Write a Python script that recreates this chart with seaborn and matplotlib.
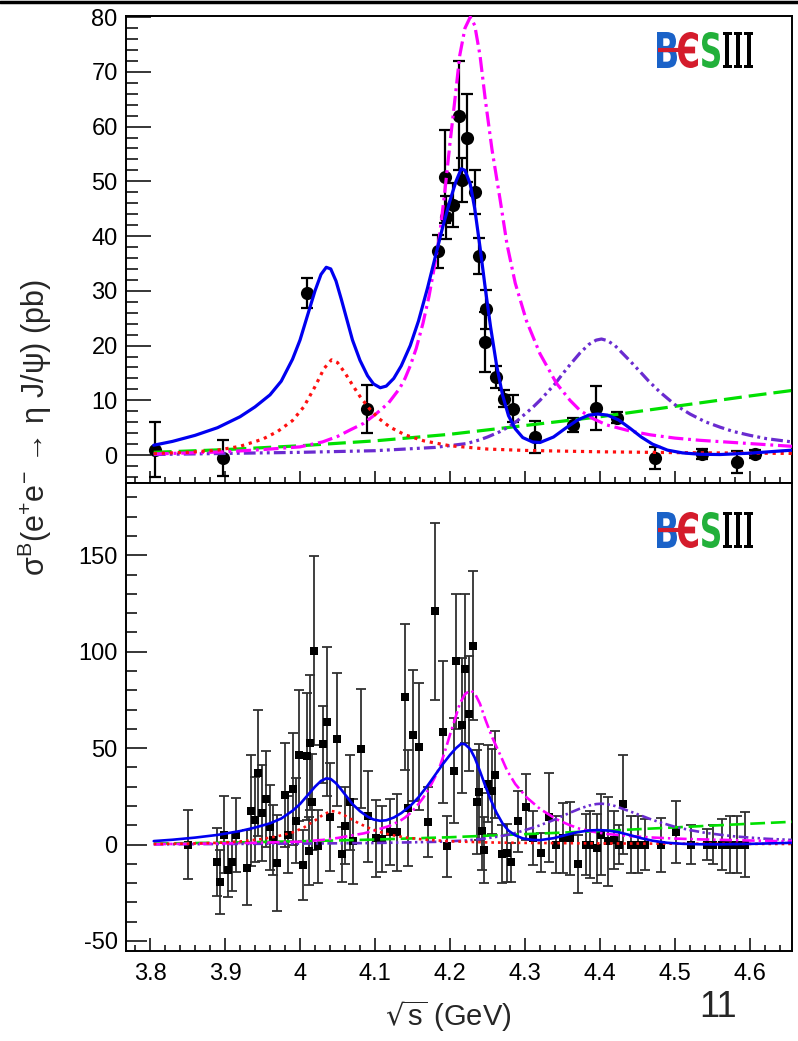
import matplotlib
matplotlib.use("Agg")
import matplotlib.pyplot as plt
import seaborn as sns
from matplotlib.ticker import MultipleLocator, FixedLocator
from matplotlib.textpath import TextPath
from matplotlib.font_manager import FontProperties
from matplotlib.patches import PathPatch
from matplotlib.transforms import Affine2D
from matplotlib.lines import Line2D

# --- top panel data: e+e- -> eta J/psi (pb) ---
top_x = [3.807, 3.897, 4.009, 4.089, 4.184, 4.193, 4.195, 4.204, 4.212, 4.216,
         4.222, 4.233, 4.239, 4.247, 4.248, 4.262, 4.272, 4.284, 4.313, 4.364,
         4.395, 4.422, 4.473, 4.536, 4.582, 4.607]
top_y = [1.0, -0.5, 29.6, 8.4, 37.2, 50.8, 43.4, 45.7, 62.0, 50.3,
         57.9, 48.1, 36.3, 20.7, 26.6, 14.2, 10.3, 8.5, 3.3, 5.5,
         8.6, 6.8, -0.5, 0.2, -1.3, 0.2]
top_err = [5.0, 3.3, 2.8, 4.4, 3.0, 8.5, 4.0, 4.0, 10.0, 4.0,
           8.0, 4.0, 3.3, 5.5, 3.5, 2.0, 1.5, 2.5, 3.0, 1.2,
           4.1, 1.0, 2.0, 1.0, 2.0, 0.8]

# --- bottom panel data ---
bot_x = [3.850, 3.889, 3.893, 3.899, 3.904, 3.909, 3.915, 3.929, 3.935, 3.940,
         3.944, 3.949, 3.954, 3.960, 3.964, 3.969, 3.980, 3.984, 3.990, 3.994,
         3.999, 4.004, 4.009, 4.012, 4.013, 4.016, 4.019, 4.024, 4.030, 4.036,
         4.040, 4.049, 4.056, 4.060, 4.067, 4.070, 4.081, 4.091, 4.101, 4.109,
         4.120, 4.129, 4.140, 4.144, 4.150, 4.159, 4.170, 4.180, 4.190, 4.196,
         4.205, 4.208, 4.216, 4.220, 4.225, 4.230, 4.236, 4.239, 4.243, 4.245,
         4.251, 4.256, 4.260, 4.270, 4.276, 4.281, 4.291, 4.301, 4.311, 4.321,
         4.332, 4.341, 4.351, 4.360, 4.371, 4.381, 4.387, 4.396, 4.401, 4.411,
         4.419, 4.425, 4.431, 4.441, 4.450, 4.460, 4.481, 4.501, 4.521, 4.542,
         4.551, 4.562, 4.573, 4.583, 4.593]
bot_y = [0.0, -8.9, -19.3, 5.0, -13.2, -8.9, 5.0, -12.0, 17.5, 12.8,
         37.0, 16.3, 23.6, 8.9, 2.4, -9.7, 25.5, 5.0, 28.8, 12.3,
         46.2, -10.6, 45.8, -3.3, 52.8, 22.0, 100.5, -1.0, 51.9, 63.7,
         14.1, 54.5, -5.0, 9.7, 21.9, 1.6, 49.8, 14.6, 3.3, 3.0,
         6.4, 6.4, 76.6, 18.9, 56.6, 50.7, 11.6, 121.0, 58.5, -1.0,
         38.4, 95.0, 61.8, 91.3, 67.9, 103.1, 22.0, 27.3, 6.8, -2.8,
         31.6, 27.6, 36.3, -5.0, -4.5, -9.2, 12.0, 19.5, 3.3, -4.2,
         14.1, 0.0, 3.3, 3.3, -10.0, 0.0, 0.0, -2.0, 5.0, 1.6,
         2.3, 0.0, 21.0, 0.0, 0.0, 0.0, 0.0, 6.4, 0.0, 0.0,
         0.0, 0.0, 0.0, 0.0, 0.0]
bot_err = [18.0, 17.7, 16.5, 20.0, 13.9, 15.0, 19.0, 19.5, 28.8, 22.0,
           32.6, 25.0, 25.0, 22.0, 18.0, 25.0, 27.0, 20.0, 28.8, 22.0,
           33.9, 18.2, 33.0, 17.7, 35.0, 25.0, 49.0, 19.0, 20.0, 38.5,
           28.0, 34.7, 14.2, 20.0, 24.8, 22.0, 30.7, 23.8, 20.0, 17.0,
           17.0, 20.0, 37.8, 30.0, 34.0, 33.0, 18.0, 46.0, 36.8, 15.6,
           27.4, 35.0, 35.0, 38.7, 30.0, 38.7, 27.0, 25.0, 20.0, 17.0,
           20.0, 22.0, 22.6, 15.0, 15.0, 10.0, 16.0, 17.0, 14.0, 10.2,
           23.0, 15.0, 18.0, 19.0, 15.0, 16.0, 17.5, 17.7, 21.0, 23.0,
           15.0, 10.0, 25.7, 15.0, 15.0, 13.0, 14.0, 16.0, 10.0, 8.0,
           10.0, 13.0, 15.0, 15.0, 17.0]

# --- fit curves ---
total_x = [3.805, 3.83, 3.86, 3.89, 3.92, 3.94, 3.96, 3.975, 3.99, 4.0,
           4.01, 4.02, 4.028, 4.035, 4.041, 4.048, 4.055, 4.062, 4.07, 4.08,
           4.09, 4.098, 4.107, 4.115, 4.125, 4.135, 4.147, 4.158, 4.17, 4.18,
           4.19, 4.2, 4.208, 4.215, 4.22, 4.227, 4.233, 4.24, 4.247, 4.254,
           4.262, 4.27, 4.278, 4.287, 4.297, 4.31, 4.32, 4.338, 4.355, 4.37,
           4.385, 4.397, 4.41, 4.425, 4.44, 4.455, 4.47, 4.49, 4.51, 4.533,
           4.56, 4.6, 4.656]
total_y = [1.8, 2.5, 3.6, 5.0, 7.0, 8.8, 11.0, 13.5, 17.5, 21.0,
           25.5, 30.0, 33.0, 34.3, 34.0, 31.8, 28.5, 25.0, 21.0, 17.3,
           14.5, 13.0, 12.3, 12.6, 14.0, 16.3, 20.0, 24.5, 30.5, 36.0,
           41.5, 46.5, 50.0, 52.3, 52.0, 49.5, 45.0, 38.0, 30.5, 23.5,
           16.5, 11.0, 7.2, 4.8, 3.2, 2.4, 2.3, 3.3, 5.0, 6.4,
           7.3, 7.5, 7.3, 6.4, 4.9, 3.3, 2.0, 0.9, 0.4, 0.15,
           0.1, 0.35, 0.9]

r1_x = [3.805, 3.85, 3.89, 3.92, 3.95, 3.97, 3.99, 4.005, 4.02, 4.032,
        4.042, 4.05, 4.06, 4.07, 4.08, 4.093, 4.105, 4.12, 4.14, 4.165,
        4.2, 4.25, 4.3, 4.4, 4.5, 4.656]
r1_y = [0.3, 0.5, 0.9, 1.6, 2.9, 4.3, 6.3, 8.8, 12.5, 15.8,
        17.4, 16.9, 15.0, 12.8, 10.7, 8.4, 6.7, 5.1, 3.7, 2.6,
        1.7, 1.1, 0.85, 0.6, 0.45, 0.3]

r2_x = [3.805, 3.9, 3.95, 4.0, 4.03, 4.05, 4.067, 4.085, 4.102, 4.118,
        4.133, 4.14, 4.147, 4.155, 4.164, 4.172, 4.18, 4.186, 4.193, 4.2,
        4.207, 4.213, 4.22, 4.227, 4.233, 4.24, 4.247, 4.256, 4.267, 4.276,
        4.287, 4.302, 4.32, 4.342, 4.36, 4.373, 4.39, 4.409, 4.44, 4.467,
        4.5, 4.533, 4.6, 4.656]
r2_y = [0.2, 0.6, 1.0, 1.5, 2.4, 3.4, 4.6, 5.8, 7.6, 9.5,
        12.2, 14.0, 16.3, 19.5, 24.1, 29.0, 35.0, 40.0, 48.0, 57.0,
        65.5, 73.0, 78.0, 80.0, 78.5, 73.0, 65.0, 55.8, 46.5, 38.5,
        31.4, 24.5, 18.5, 13.1, 10.0, 8.2, 6.7, 5.5, 4.4, 3.7,
        3.1, 2.7, 2.1, 1.6]

r3_x = [3.805, 3.9, 4.0, 4.1, 4.18, 4.222, 4.24, 4.25, 4.267, 4.28,
        4.29, 4.3, 4.311, 4.32, 4.33, 4.34, 4.35, 4.36, 4.373, 4.385,
        4.395, 4.402, 4.41, 4.42, 4.43, 4.44, 4.453, 4.465, 4.48, 4.5,
        4.52, 4.54, 4.56, 4.578, 4.6, 4.622, 4.656]
r3_y = [0.1, 0.3, 0.5, 0.8, 1.4, 2.1, 2.8, 3.3, 4.3, 5.3,
        6.3, 7.5, 8.8, 10.0, 11.5, 13.0, 14.8, 16.5, 18.6, 20.2,
        21.0, 21.2, 20.9, 20.0, 18.6, 17.2, 15.3, 13.5, 11.5, 9.2,
        7.5, 6.1, 5.1, 4.3, 3.6, 3.0, 2.4]

bkg_x = [3.805, 3.9, 4.0, 4.1, 4.2, 4.3, 4.4, 4.5, 4.6, 4.656]
bkg_y = [0.5, 1.0, 1.7, 2.6, 3.8, 5.4, 7.0, 8.9, 10.8, 11.8]

x_ticks = [3.8, 3.9, 4.0, 4.1, 4.2, 4.3, 4.4, 4.5, 4.6]
x_tick_labels = ["3.8", "3.9", "4", "4.1", "4.2", "4.3", "4.4", "4.5", "4.6"]

W, H = 798, 1041

sns.set_theme(style="ticks")
plt.rcParams["font.family"] = ["Liberation Sans", "DejaVu Sans"]
plt.rcParams["mathtext.default"] = "regular"
plt.rcParams["axes.unicode_minus"] = False

fig = plt.figure(figsize=(W / 100, H / 100), dpi=100)
ax_top = fig.add_axes([126 / W, 1 - 483 / H, (792 - 126) / W, (483 - 16) / H])
ax_bot = fig.add_axes([126 / W, 1 - 951 / H, (792 - 126) / W, (951 - 483) / H])

curves = [
    (bkg_x, bkg_y, "#00e000", (0, (5.6, 2.2))),
    (r3_x, r3_y, "#6a2bd0", (0, (3.7, 1.3, 0.9, 1.3, 0.9, 1.3))),
    (r2_x, r2_y, "#ff00ff", (0, (4.7, 1.5, 0.9, 1.5))),
    (r1_x, r1_y, "#ff1010", (0, (1.0, 1.5))),
    (total_x, total_y, "#0000f0", "-"),
]


def draw_curves(ax, lw):
    for xs, ys, color, ls in curves:
        sns.lineplot(x=xs, y=ys, ax=ax, color=color, linestyle=ls, lw=lw,
                     sort=False, estimator=None, zorder=4)


# top panel
ax_top.errorbar(top_x, top_y, yerr=top_err, fmt="none", ecolor="black",
                elinewidth=1.6, capsize=4, capthick=1.6, zorder=2)
sns.scatterplot(x=top_x, y=top_y, ax=ax_top, color="black", marker="o",
                s=90, linewidth=0, zorder=3)
draw_curves(ax_top, 2.3)

# bottom panel
ax_bot.errorbar(bot_x, bot_y, yerr=bot_err, fmt="none", ecolor="#303030",
                elinewidth=1.3, capsize=3.5, capthick=1.3, zorder=2)
sns.scatterplot(x=bot_x, y=bot_y, ax=ax_bot, color="black", marker="s",
                s=40, linewidth=0, zorder=3)
draw_curves(ax_bot, 1.9)

for ax in (ax_top, ax_bot):
    ax.set_xlim(3.768, 4.656)
    ax.xaxis.set_major_locator(FixedLocator(x_ticks))
    ax.xaxis.set_minor_locator(MultipleLocator(0.02))
    for sp in ax.spines.values():
        sp.set_visible(True)
        sp.set_linewidth(1.4)
        sp.set_color("black")
    ax.tick_params(which="both", direction="in", top=False, right=False,
                   width=1.1, color="black", labelsize=17, labelcolor="black")
    ax.set_xlabel("")
    ax.set_ylabel("")
    ax.grid(False)

ax_top.set_ylim(-5.1, 80.2)
ax_top.yaxis.set_major_locator(MultipleLocator(10))
ax_top.yaxis.set_minor_locator(MultipleLocator(2))
ax_top.tick_params(axis="y", which="major", length=18, pad=6)
ax_top.tick_params(axis="y", which="minor", length=8.5)
ax_top.tick_params(axis="x", which="major", length=8.5, labelbottom=False)
ax_top.tick_params(axis="x", which="minor", length=4.3)

ax_bot.set_ylim(-55.2, 187.5)
ax_bot.yaxis.set_major_locator(MultipleLocator(50))
ax_bot.yaxis.set_minor_locator(MultipleLocator(10))
ax_bot.set_xticklabels(x_tick_labels)
ax_bot.tick_params(axis="y", which="major", length=15, pad=6)
ax_bot.tick_params(axis="y", which="minor", length=8)
ax_bot.tick_params(axis="x", which="major", length=9.4, pad=9)
ax_bot.tick_params(axis="x", which="minor", length=4.3)


def glyph(char, box, color, family="DejaVu Sans"):
    x0, x1, ytop, ybot = box
    tp = TextPath((0, 0), char, size=1,
                  prop=FontProperties(family=family, weight="bold"))
    ext = tp.get_extents()
    sx = (x1 - x0) / ext.width / W
    sy = (ybot - ytop) / ext.height / H
    tr = (Affine2D().translate(-ext.x0, -ext.y0).scale(sx, sy)
          .translate(x0 / W, 1 - ybot / H) + fig.transFigure)
    fig.add_artist(PathPatch(tp, transform=tr, facecolor=color, lw=0, zorder=5))


def draw_logo(x0, ytop):
    h = 36
    glyph("B", (x0, x0 + 20, ytop, ytop + h), "#1a62c8")
    glyph("Є", (x0 + 21, x0 + 41, ytop, ytop + h), "#d41c2c")
    glyph("S", (x0 + 45, x0 + 63, ytop, ytop + h), "#22b03a")
    glyph("III", (x0 + 66, x0 + 96, ytop, ytop + h), "black", "DejaVu Serif")
    ym = 1 - (ytop + h / 2) / H
    fig.add_artist(Line2D([(x0 + 1) / W, (x0 + 38) / W], [ym, ym],
                          color="#d41c2c", lw=3, solid_capstyle="butt", zorder=6))


draw_logo(657, 32)
draw_logo(657, 512)

fig.text(0.044, 0.589, r"σ$^{B}$(e$^{+}$e$^{-}$ → η J/ψ) (pb)", rotation=90,
         ha="center", va="center", fontsize=22)
fig.text(0.562, 0.024, r"$\sqrt{s}$ (GeV)", ha="center", va="center", fontsize=21)
fig.text(0.9, 0.032, "11", ha="center", va="center", fontsize=26)
fig.add_artist(Line2D([0, 1], [0.9985, 0.9985], color="black", lw=2.5))

fig.savefig("out.png", dpi=100)
